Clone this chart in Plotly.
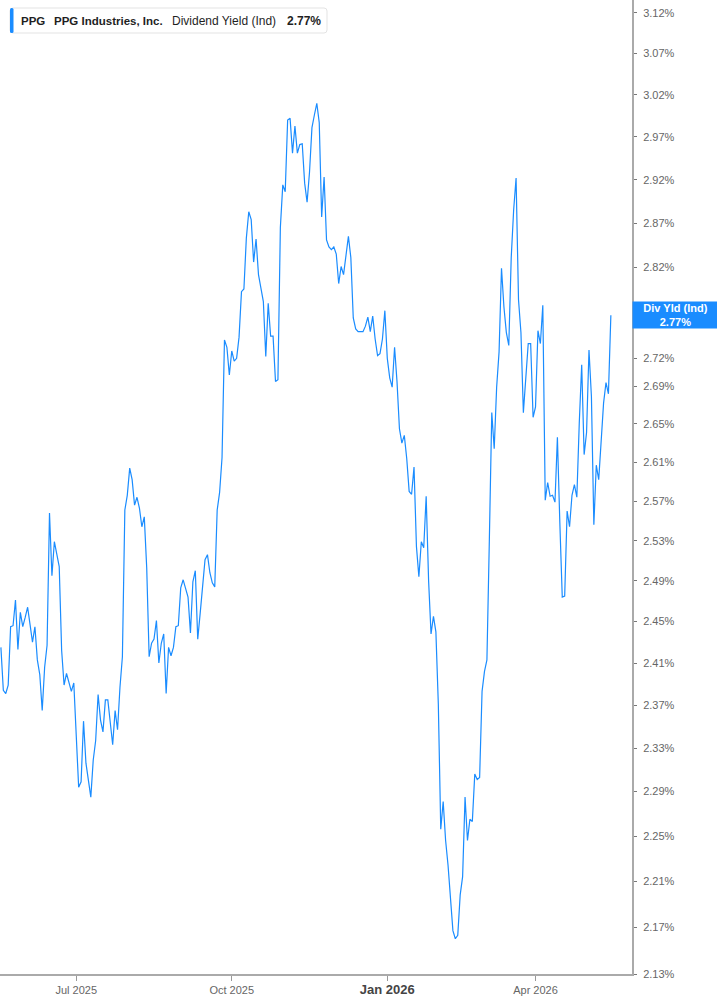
import math
import pandas as pd
import plotly.graph_objects as go

# ---------------- data ----------------
start_date = "2025-05-15"
holidays = ["2025-05-26", "2025-06-19", "2025-07-04", "2025-09-01", "2025-11-27",
            "2025-12-25", "2026-01-01", "2026-01-19", "2026-02-16", "2026-04-03"]

yield_may_jun_2025 = [2.425, 2.384, 2.381, 2.389, 2.445, 2.446, 2.471, 2.423, 2.459, 2.445,
                      2.454, 2.464, 2.447, 2.430, 2.445, 2.413, 2.399, 2.365, 2.406, 2.427,
                      2.558, 2.495, 2.529, 2.516, 2.504, 2.422, 2.389, 2.400, 2.392, 2.383,
                      2.391]
yield_q3_2025 = [2.342, 2.294, 2.299, 2.355, 2.316, 2.301, 2.285, 2.319, 2.337, 2.380,
                 2.356, 2.345, 2.375, 2.375, 2.356, 2.333, 2.365, 2.347, 2.387, 2.416,
                 2.561, 2.576, 2.604, 2.592, 2.566, 2.574, 2.563, 2.544, 2.554, 2.503,
                 2.416, 2.429, 2.433, 2.451, 2.410, 2.429, 2.438, 2.381, 2.425, 2.417,
                 2.425, 2.445, 2.446, 2.483, 2.491, 2.481, 2.474, 2.439, 2.489, 2.500,
                 2.433, 2.458, 2.489, 2.511, 2.516, 2.498, 2.488, 2.484, 2.561, 2.579,
                 2.615, 2.740, 2.732, 2.702]
yield_q4_2025 = [2.728, 2.717, 2.720, 2.743, 2.793, 2.796,
                 2.853, 2.883, 2.874, 2.826, 2.852, 2.812, 2.797, 2.782, 2.722, 2.780,
                 2.744, 2.744, 2.695, 2.697, 2.865, 2.914, 2.906, 2.990, 2.992, 2.951,
                 2.983, 2.951, 2.961, 2.962, 2.916, 2.894, 2.929, 2.981, 2.996, 3.010,
                 2.987, 2.877, 2.923, 2.851, 2.843, 2.840, 2.843, 2.835, 2.802, 2.821,
                 2.812, 2.831, 2.855, 2.831, 2.764, 2.752, 2.749, 2.749, 2.749, 2.755,
                 2.765, 2.749, 2.766, 2.741, 2.723, 2.725, 2.741, 2.772]
yield_q1_2026 = [2.720, 2.699, 2.689, 2.732, 2.695, 2.645, 2.630, 2.638, 2.614, 2.580,
                 2.577, 2.605,
                 2.524, 2.494, 2.529, 2.523, 2.575, 2.490, 2.438, 2.455, 2.440, 2.371,
                 2.256, 2.281, 2.246, 2.224, 2.198, 2.167, 2.160, 2.163, 2.198, 2.214,
                 2.285, 2.246, 2.265, 2.263, 2.306, 2.301, 2.303, 2.383, 2.402, 2.413,
                 2.531, 2.662, 2.624, 2.689, 2.727, 2.819, 2.776, 2.748, 2.734, 2.831,
                 2.885, 2.922, 2.784, 2.748, 2.662, 2.705, 2.736, 2.736, 2.657]
yield_apr_may_2026 = [2.668, 2.750, 2.736, 2.778, 2.571, 2.589, 2.575, 2.576, 2.569, 2.636,
                      2.548, 2.474, 2.475, 2.560, 2.544, 2.576, 2.587, 2.574, 2.651, 2.713,
                      2.618, 2.641, 2.729, 2.679, 2.546, 2.607, 2.592, 2.633, 2.672, 2.694,
                      2.682, 2.767]

y_tick_values = [2.13, 2.17, 2.21, 2.25, 2.29, 2.33, 2.37, 2.41, 2.45, 2.49, 2.53, 2.57,
                 2.61, 2.65, 2.69, 2.72, 2.82, 2.87, 2.92, 2.97, 3.02, 3.07, 3.12]
x_tick_dates = ["2025-07-01", "2025-10-01", "2026-01-02", "2026-04-01"]
x_tick_labels = ["Jul 2025", "Oct 2025",
                 "<span style='font-size:13px;color:#444'><b>Jan 2026</b></span>",
                 "Apr 2026"]

ticker = "PPG"
company = "PPG Industries, Inc."
metric = "Dividend Yield (Ind)"
metric_short = "Div Yld (Ind)"

# ---------------- build ----------------
values = (yield_may_jun_2025 + yield_q3_2025 + yield_q4_2025 +
          yield_q1_2026 + yield_apr_may_2026)
dates = pd.bdate_range(start=start_date, periods=len(values), freq="C",
                       holidays=holidays).strftime("%Y-%m-%d").tolist()
last = values[-1]

BLUE = "#1a8cff"
FONT = "Liberation Sans, Arial, sans-serif"
W, H = 717, 1005
ML, MR, MT, MB = 0, 85, 0, 31
PW, PH = W - ML - MR, H - MT - MB


def px(x):
    return x / PW


def py(y):
    return 1 - y / PH


fig = go.Figure()
fig.add_trace(go.Scatter(x=dates, y=values, mode="lines",
                         line=dict(color=BLUE, width=1.2), hoverinfo="skip",
                         showlegend=False))

fig.update_layout(
    width=W, height=H,
    margin=dict(l=ML, r=MR, t=MT, b=MB, pad=0),
    paper_bgcolor="white", plot_bgcolor="white",
    font=dict(family=FONT, size=11, color="#666"),
    showlegend=False,
)
fig.update_xaxes(
    type="category", range=[-0.37, 259.7],
    tickmode="array", tickvals=x_tick_dates, ticktext=x_tick_labels,
    showgrid=False, zeroline=False,
    showline=True, linecolor="#aaaaaa", linewidth=2,
    ticks="outside", ticklen=5, tickcolor="#999", tickwidth=1,
    tickfont=dict(family=FONT, size=11, color="#666"),
)
fig.update_yaxes(
    type="log", side="right",
    range=[math.log10(2.13), math.log10(3.136)],
    tickmode="array", tickvals=y_tick_values,
    ticktext=[f"{v:.2f}%" for v in y_tick_values],
    showgrid=False, zeroline=False,
    showline=True, linecolor="#aaaaaa", linewidth=2,
    ticks="outside", ticklen=3, tickcolor="#777", tickwidth=1,
    ticklabelstandoff=4,
    tickfont=dict(family=FONT, size=11, color="#666"),
)


def rounded_rect(x0, y0, x1, y1, r):
    return (f"M {px(x0 + r)},{py(y0)} L {px(x1 - r)},{py(y0)} "
            f"Q {px(x1)},{py(y0)} {px(x1)},{py(y0 + r)} "
            f"L {px(x1)},{py(y1 - r)} Q {px(x1)},{py(y1)} {px(x1 - r)},{py(y1)} "
            f"L {px(x0 + r)},{py(y1)} Q {px(x0)},{py(y1)} {px(x0)},{py(y1 - r)} "
            f"L {px(x0)},{py(y0 + r)} Q {px(x0)},{py(y0)} {px(x0 + r)},{py(y0)} Z")


# legend box
fig.add_shape(type="path", xref="paper", yref="paper",
              path=rounded_rect(10, 8, 327, 33, 3),
              line=dict(color="#e3e3e3", width=1), fillcolor="white", layer="above")
fig.add_shape(type="path", xref="paper", yref="paper",
              path=rounded_rect(10, 8, 13.5, 33, 1.5),
              line=dict(color=BLUE, width=0), fillcolor=BLUE, layer="above")

legend_parts = [
    (20, f"<b>{ticker}</b>", 11.5),
    (52.5, f"<b>{company}</b>", 11.5),
    (170.5, metric, 12),
    (285.5, f"<b>{last:.2f}%</b>", 12),
]
for x, txt, size in legend_parts:
    fig.add_annotation(xref="paper", yref="paper", x=px(x), y=py(20.5),
                       xanchor="left", yanchor="middle", showarrow=False,
                       text=txt, borderpad=0,
                       font=dict(family=FONT, size=size, color="#1f1f1f"))

# last-value label
fig.add_annotation(xref="paper", yref="y", x=1.0, y=math.log10(last),
                   xanchor="left", yanchor="middle", showarrow=False,
                   text=f"<b>{metric_short}</b><br><b>{last:.2f}%</b>",
                   align="center", bgcolor=BLUE, borderpad=1,
                   width=83, height=24,
                   font=dict(family=FONT, size=11, color="white"))

fig.write_html("out.html", config={"displayModeBar": False},
               post_script="document.body.style.margin='0';document.body.style.overflow='hidden';")
